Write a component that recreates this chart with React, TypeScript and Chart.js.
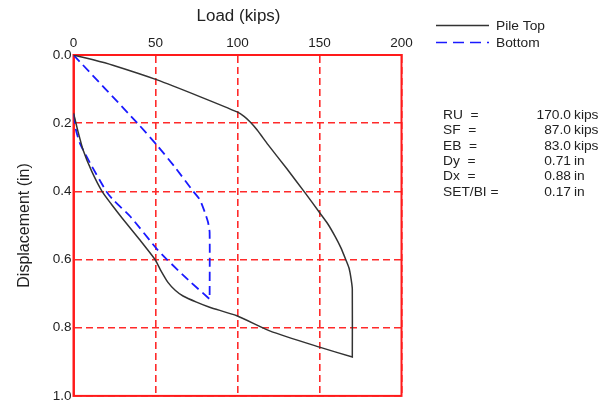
import React, { useEffect, useRef } from "react";
import { Chart, registerables } from "chart.js";

Chart.register(...registerables);

// Pile Top: loading then unloading (load kips, displacement in)
const topLoad = [0, 0, 12, 24, 51, 77, 99.7, 104, 107.6, 112, 118.6, 130, 141, 150, 155, 159.5, 163, 166, 168, 169.3, 170, 170, 170,
  150, 120, 99.6, 83, 75, 66.8, 62, 57.6, 53, 49.7, 40, 29.6, 23, 17.4, 11, 5.8, 2.5, 1, 0];
const topDisp = [0, 0, 0.014, 0.03, 0.073, 0.122, 0.167, 0.18, 0.196, 0.22, 0.263, 0.333, 0.403, 0.462, 0.495, 0.532, 0.565, 0.6, 0.625, 0.658, 0.687, 0.886, 0.886,
  0.857, 0.81, 0.765, 0.74, 0.725, 0.707, 0.69, 0.667, 0.63, 0.6, 0.54, 0.478, 0.437, 0.4, 0.34, 0.278, 0.22, 0.19, 0.17];

// Bottom
const botLoad = [0, 0, 39, 51.5, 62, 73, 77, 80, 82, 83, 83, 83, 70, 57, 51, 34.5, 24, 20, 10, 4, 1.5, 0];
const botDisp = [0, 0, 0.2, 0.268, 0.33, 0.4, 0.424, 0.46, 0.49, 0.52, 0.716, 0.716, 0.66, 0.6, 0.57, 0.473, 0.424, 0.4, 0.316, 0.26, 0.22, 0.17];

const xTicks = [0, 50, 100, 150, 200];
const yTicks = [0, 0.2, 0.4, 0.6, 0.8, 1.0];

const seriesNames = ["Pile Top", "Bottom"];
const infoLabels = ["RU  =", "SF  =", "EB  =", "Dy  =", "Dx  =", "SET/BI ="];
const infoValues = ["170.0", "87.0", "83.0", "0.71", "0.88", "0.17"];
const infoUnits = ["kips", "kips", "kips", "in", "in", "in"];

const FONT = "'Liberation Sans', Arial, sans-serif";
const SX = 1.06;

function stretchText(ctx: any, text: string, x: number, y: number, align: "left" | "right" | "center") {
  ctx.save();
  ctx.translate(x, y);
  ctx.scale(SX, 1);
  ctx.textAlign = align;
  ctx.fillText(text, 0, 0);
  ctx.restore();
}

export default function App() {
  const ref = useRef<HTMLCanvasElement | null>(null);
  useEffect(() => {
    const canvas = ref.current;
    if (!canvas) return;
    const overlay = {
      id: "overlay",
      beforeDatasetsDraw(chart: any) {
        const { ctx, chartArea } = chart;
        ctx.save();
        ctx.strokeStyle = "#ff1a1a";
        ctx.lineWidth = 2;
        ctx.setLineDash([]);
        ctx.strokeRect(chartArea.left, chartArea.top, chartArea.right - chartArea.left, chartArea.bottom - chartArea.top);
        ctx.restore();
      },
      afterDraw(chart: any) {
        const { ctx, chartArea } = chart;
        ctx.save();
        ctx.fillStyle = "#222";
        ctx.textBaseline = "middle";
        // titles
        ctx.font = `16px ${FONT}`;
        stretchText(ctx, "Load (kips)", (chartArea.left + chartArea.right) / 2 + 1, 17, "center");
        ctx.save();
        ctx.translate(25, (chartArea.top + chartArea.bottom) / 2);
        ctx.rotate(-Math.PI / 2);
        ctx.textAlign = "center";
        ctx.fillText("Displacement (in)", 0, 0);
        ctx.restore();
        // legend
        ctx.font = `13px ${FONT}`;
        const legY = [25.5, 42.5];
        const legCol = ["#333333", "#1a1aff"];
        const legDash = [[], [11, 6]];
        for (let i = 0; i < seriesNames.length; i++) {
          ctx.beginPath();
          ctx.strokeStyle = legCol[i];
          ctx.lineWidth = 1.5;
          ctx.setLineDash(legDash[i]);
          ctx.moveTo(436, legY[i]);
          ctx.lineTo(489, legY[i]);
          ctx.stroke();
          ctx.setLineDash([]);
          stretchText(ctx, seriesNames[i], 496, legY[i] + 1, "left");
        }
        // info block
        const y0 = 115.5;
        const dy = 15.3;
        for (let i = 0; i < infoLabels.length; i++) {
          const y = y0 + i * dy;
          stretchText(ctx, infoLabels[i], 443, y, "left");
          stretchText(ctx, infoValues[i], 571, y, "right");
          stretchText(ctx, infoUnits[i], 574, y, "left");
        }
        ctx.restore();
      },
    };
    const chart = new Chart(canvas, {
      type: "line",
      data: {
        datasets: [
          {
            label: seriesNames[0],
            data: topLoad.map((x, i) => ({ x, y: topDisp[i] })),
            borderColor: "#333333",
            borderWidth: 1.5,
            pointRadius: 0,
            tension: 0.2,
            fill: false,
          },
          {
            label: seriesNames[1],
            data: botLoad.map((x, i) => ({ x, y: botDisp[i] })),
            borderColor: "#1a1aff",
            borderWidth: 1.8,
            borderDash: [9, 5],
            pointRadius: 0,
            tension: 0.2,
            fill: false,
          },
        ],
      },
      options: {
        animation: false,
        responsive: false,
        layout: { padding: { left: 0, top: 0, right: 203.5, bottom: 8.5 } },
        plugins: { legend: { display: false }, tooltip: { enabled: false } },
        scales: {
          x: {
            type: "linear",
            position: "top",
            min: 0,
            max: 200,
            afterBuildTicks: (s: any) => { s.ticks = xTicks.map((v) => ({ value: v })); },
            afterFit: (s: any) => { s.height = 55; },
            ticks: { color: "#222", font: { family: FONT, size: 13.5 }, padding: 4, maxRotation: 0 },
            grid: { color: "#ff2a2a", drawTicks: false, lineWidth: 1.6 },
            border: { color: "#ff2a2a", dash: [7, 4], width: 2 },
          },
          y: {
            type: "linear",
            reverse: true,
            min: 0,
            max: 1,
            afterBuildTicks: (s: any) => { s.ticks = yTicks.map((v) => ({ value: v })); },
            afterFit: (s: any) => { s.width = 73.5; },
            ticks: { color: "#222", font: { family: FONT, size: 13.5 }, padding: 2, callback: (v: any) => Number(v).toFixed(1) },
            grid: { color: "#ff2a2a", drawTicks: false, lineWidth: 1.6 },
            border: { color: "#ff2a2a", dash: [7, 4], width: 2 },
          },
        },
      },
      plugins: [overlay],
    });
    return () => chart.destroy();
  }, []);
  return (
    <div style={{ position: "fixed", left: 0, top: 0, width: 605, height: 406, background: "#fff" }}>
      <canvas ref={ref} width={605} height={406} style={{ width: 605, height: 406, display: "block" }} />
    </div>
  );
}
